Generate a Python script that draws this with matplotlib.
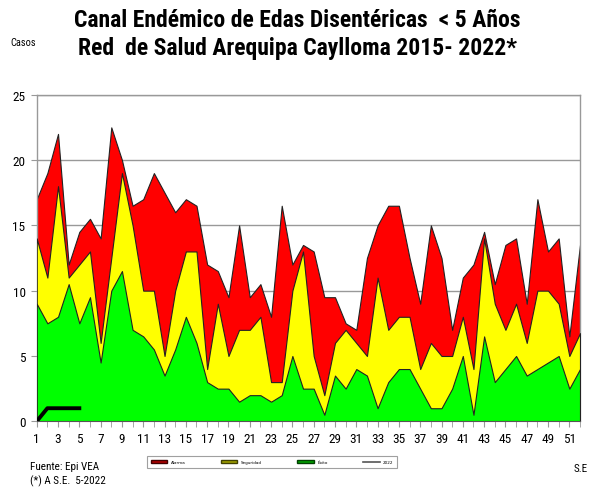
"""
Canal endemico de EDAs disentericas < 5 anos, Red de Salud Arequipa Caylloma
"""

import matplotlib
matplotlib.use("Agg")
import matplotlib.pyplot as plt
from matplotlib import font_manager
from matplotlib.lines import Line2D
from matplotlib.patches import Patch

# Semanas epidemiologicas
weeks = list(range(1, 53))

# Limite superior de cada zona (valores acumulados)
alarma = [17, 19, 22, 12, 14.5, 15.5, 14, 22.5, 20, 16.5, 17, 19, 17.5, 16, 17, 16.5,
          12, 11.5, 9.5, 15, 9.5, 10.5, 8, 16.5, 12, 13.5, 13, 9.5, 9.5, 7.5, 7, 12.5,
          15, 16.5, 16.5, 12.5, 9, 15, 12.5, 7, 11, 12, 14.5, 10.5, 13.5, 14, 9, 17,
          13, 14, 6.5, 13.5]
seguridad = [14, 11, 18, 11, 12, 13, 6, 12.5, 19, 15, 10, 10, 5, 10, 13, 13,
             4, 9, 5, 7, 7, 8, 3, 3, 10, 13, 5, 2, 6, 7, 6, 5,
             11, 7, 8, 8, 4, 6, 5, 5, 8, 4, 14, 9, 7, 9, 6, 10,
             10, 9, 5, 6.75]
exito = [9, 7.5, 8, 10.5, 7.5, 9.5, 4.5, 10, 11.5, 7, 6.5, 5.5, 3.5, 5.5, 8, 6,
         3, 2.5, 2.5, 1.5, 2, 2, 1.5, 2, 5, 2.5, 2.5, 0.5, 3.5, 2.5, 4, 3.5,
         1, 3, 4, 4, 2.5, 1, 1, 2.5, 5, 0.5, 6.5, 3, 4, 5, 3.5, 4, 4.5, 5, 2.5, 4]

# Casos 2022 (hasta la S.E. 5)
weeks_2022 = [1, 2, 3, 4, 5]
casos_2022 = [0, 1, 1, 1, 1]

x_labels = [str(w) for w in range(1, 53, 2)]

# fuente angosta parecida a Arial Narrow
installed = {f.name for f in font_manager.fontManager.ttflist}
NARROW = "Liberation Sans"
for cand in ["Liberation Sans Narrow", "Roboto Condensed", "Archivo Narrow",
             "Fira Sans Condensed", "Encode Sans Condensed"]:
    if cand in installed:
        NARROW = cand
        break

fig = plt.figure(figsize=(5.94, 4.89), dpi=100)
ax = fig.add_axes([0.0618, 0.1364, 0.9146, 0.6679])

ax.fill_between(weeks, 0, alarma, color="#FF0000", edgecolor="#222222", linewidth=0.8, zorder=2)
ax.fill_between(weeks, 0, seguridad, color="#FFFF00", edgecolor="#222222", linewidth=0.8, zorder=3)
ax.fill_between(weeks, 0, exito, color="#00FF00", edgecolor="#222222", linewidth=0.8, zorder=4)
ax.plot(weeks_2022, casos_2022, color="black", linewidth=2.8, zorder=5)

ax.set_xlim(1, 52)
ax.set_ylim(0, 25)
ax.set_yticks([0, 5, 10, 15, 20, 25])
ax.set_xticks(weeks, minor=True)
ax.set_xticks(list(range(1, 53, 2)))
ax.set_xticklabels(x_labels)
ax.grid(axis="y", color="#999999", linewidth=1.0, zorder=1)
ax.set_axisbelow(True)

for side in ["top", "right", "left"]:
    ax.spines[side].set_color("#999999")
    ax.spines[side].set_linewidth(1.0)
ax.spines["bottom"].set_color("#555555")
ax.spines["bottom"].set_zorder(6)

ax.tick_params(axis="x", which="both", length=4, color="#999999", pad=4,
               labelsize=9.5)
ax.tick_params(axis="y", length=4, color="#999999", pad=4, labelsize=9.5)
for lbl in ax.get_xticklabels() + ax.get_yticklabels():
    lbl.set_fontfamily(NARROW)

fig.text(0.50, 0.958, "Canal Endémico de Edas Disentéricas  < 5 Años",
         ha="center", va="center", fontsize=17, fontweight="bold", family=NARROW)
fig.text(0.50, 0.900, "Red  de Salud Arequipa Caylloma 2015- 2022*",
         ha="center", va="center", fontsize=17, fontweight="bold", family=NARROW)
fig.text(0.017, 0.912, "Casos", ha="left", va="center", fontsize=7.5, family=NARROW)
fig.text(0.050, 0.045, "Fuente: Epi VEA", ha="left", va="center", fontsize=8, family=NARROW)
fig.text(0.050, 0.016, "(*) A S.E.  5-2022", ha="left", va="center", fontsize=8, family=NARROW)
fig.text(0.966, 0.040, "S.E", ha="left", va="center", fontsize=8, family=NARROW)

handles = [
    Patch(facecolor="#B00000", edgecolor="#400000", label="Alarma"),
    Patch(facecolor="#A0A000", edgecolor="#404000", label="Seguridad"),
    Patch(facecolor="#00A000", edgecolor="#004000", label="Éxito"),
    Line2D([0], [0], color="#555555", linewidth=1.2, label="2022"),
]
leg = fig.legend(handles=handles, loc="center", bbox_to_anchor=(0.458, 0.053),
                 ncol=4, fontsize=3, frameon=True, fancybox=False,
                 handlelength=4, handleheight=0.6, columnspacing=8.5,
                 borderpad=0.9, edgecolor="#888888")
leg.get_frame().set_linewidth(0.8)

fig.savefig("out.png", dpi=100)
